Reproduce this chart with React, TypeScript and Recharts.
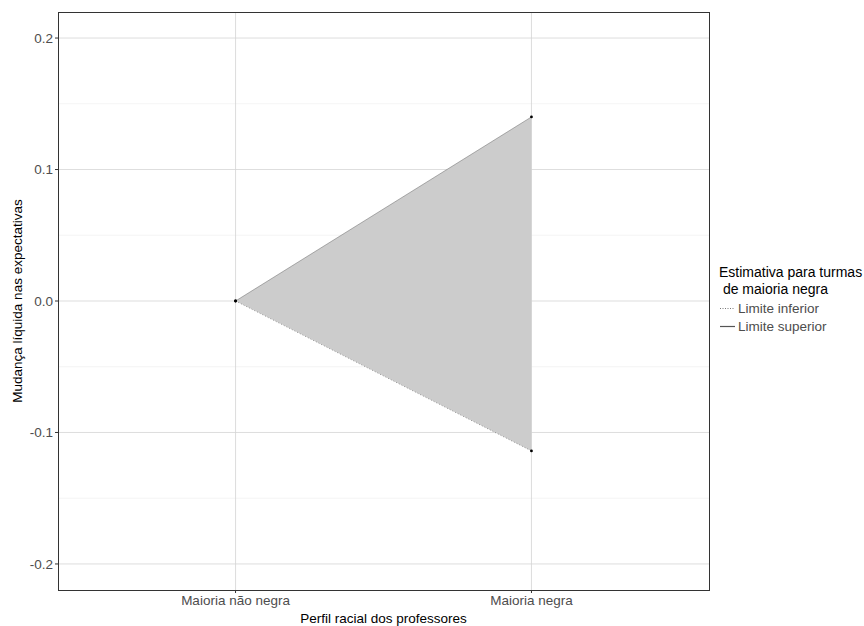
import {
  Area,
  CartesianGrid,
  ComposedChart,
  Line,
  XAxis,
  YAxis,
} from "recharts";

const W = 864;
const H = 626;
const FONT = "'Liberation Sans', Arial, sans-serif";

// teacher racial profile categories, placed at x = 1, 2
const categories = ["Maioria não negra", "Maioria negra"];
const lowerLimit = [0, -0.114];
const upperLimit = [0, 0.14];

const yTicks = [-0.2, -0.1, 0, 0.1, 0.2];
const yMinor = [-0.15, -0.05, 0.05, 0.15];

const data = categories.map((name, i) => ({
  x: i + 1,
  name,
  low: lowerLimit[i],
  high: upperLimit[i],
  band: [lowerLimit[i], upperLimit[i]],
}));

// plot panel box
const PANEL = { left: 58, top: 12, right: 709, bottom: 590 };

export default function App() {
  return (
    <div
      style={{
        position: "absolute",
        left: 0,
        top: 0,
        width: W,
        height: H,
        background: "#fff",
        fontFamily: FONT,
      }}
    >
      <ComposedChart
        width={W}
        height={H}
        data={data}
        margin={{
          top: PANEL.top,
          right: W - PANEL.right,
          bottom: 0,
          left: 0,
        }}
      >
        <CartesianGrid
          horizontalValues={yMinor}
          vertical={false}
          stroke="#ededed"
          strokeWidth={0.6}
        />
        <CartesianGrid
          horizontalValues={yTicks}
          verticalValues={[1, 2]}
          stroke="#d4d4d4"
          strokeWidth={0.8}
        />
        <XAxis
          dataKey="x"
          type="number"
          domain={[0.4, 2.6]}
          ticks={[1, 2]}
          tickFormatter={(v) => categories[v - 1] ?? ""}
          allowDataOverflow
          height={H - PANEL.bottom}
          axisLine={false}
          tickSize={3}
          tickMargin={2}
          tickLine={{ stroke: "#333" }}
          tick={{ fill: "#4d4d4d", fontSize: 13.5, fontFamily: FONT }}
        />
        <YAxis
          type="number"
          domain={[-0.2198, 0.2198]}
          ticks={yTicks}
          allowDataOverflow
          width={PANEL.left}
          tickFormatter={(v) => Number(v).toFixed(1)}
          axisLine={false}
          tickSize={3}
          tickMargin={2}
          tickLine={{ stroke: "#333" }}
          tick={{ fill: "#4d4d4d", fontSize: 13.5, fontFamily: FONT }}
        />
        <Area
          type="linear"
          dataKey="band"
          fill="#cccccc"
          fillOpacity={1}
          stroke="none"
          isAnimationActive={false}
        />
        <Line
          type="linear"
          dataKey="low"
          stroke="#444"
          strokeWidth={0.5}
          strokeDasharray="1 2"
          dot={{ r: 1.4, fill: "#000", stroke: "none" }}
          isAnimationActive={false}
        />
        <Line
          type="linear"
          dataKey="high"
          stroke="#666"
          strokeWidth={0.5}
          dot={{ r: 1.4, fill: "#000", stroke: "none" }}
          isAnimationActive={false}
        />
      </ComposedChart>

      {/* panel border */}
      <div
        style={{
          position: "absolute",
          left: PANEL.left,
          top: PANEL.top,
          width: PANEL.right - PANEL.left - 1,
          height: PANEL.bottom - PANEL.top - 1,
          border: "1px solid #333",
          pointerEvents: "none",
        }}
      />

      {/* axis titles */}
      <div
        style={{
          position: "absolute",
          left: 0,
          top: 611,
          width: PANEL.left * 2 + (PANEL.right - PANEL.left),
          textAlign: "center",
          fontSize: 13.5,
          color: "#000",
          lineHeight: "16px",
        }}
      >
        Perfil racial dos professores
      </div>
      <div
        style={{
          position: "absolute",
          left: 18,
          top: 301,
          transform: "translate(-50%, -50%) rotate(-90deg)",
          whiteSpace: "nowrap",
          fontSize: 13.5,
          color: "#000",
          lineHeight: "16px",
        }}
      >
        Mudança líquida nas expectativas
      </div>

      {/* legend */}
      <div
        style={{
          position: "absolute",
          left: 719,
          top: 264,
          fontSize: 14,
          color: "#000",
          lineHeight: "17px",
          whiteSpace: "pre",
        }}
      >
        {"Estimativa para turmas\n de maioria negra"}
      </div>
      {[
        { label: "Limite inferior", dash: "1 1.5", top: 300 },
        { label: "Limite superior", dash: undefined, top: 318 },
      ].map((item) => (
        <div
          key={item.label}
          style={{
            position: "absolute",
            left: 719,
            top: item.top,
            height: 17,
            display: "flex",
            alignItems: "center",
            fontSize: 13.5,
            color: "#4d4d4d",
          }}
        >
          <svg width={17} height={17}>
            <line
              x1={1}
              x2={16}
              y1={8.5}
              y2={8.5}
              stroke="#555"
              strokeWidth={item.dash ? 0.8 : 1.2}
              strokeDasharray={item.dash}
            />
          </svg>
          <span style={{ marginLeft: 2 }}>{item.label}</span>
        </div>
      ))}
    </div>
  );
}
